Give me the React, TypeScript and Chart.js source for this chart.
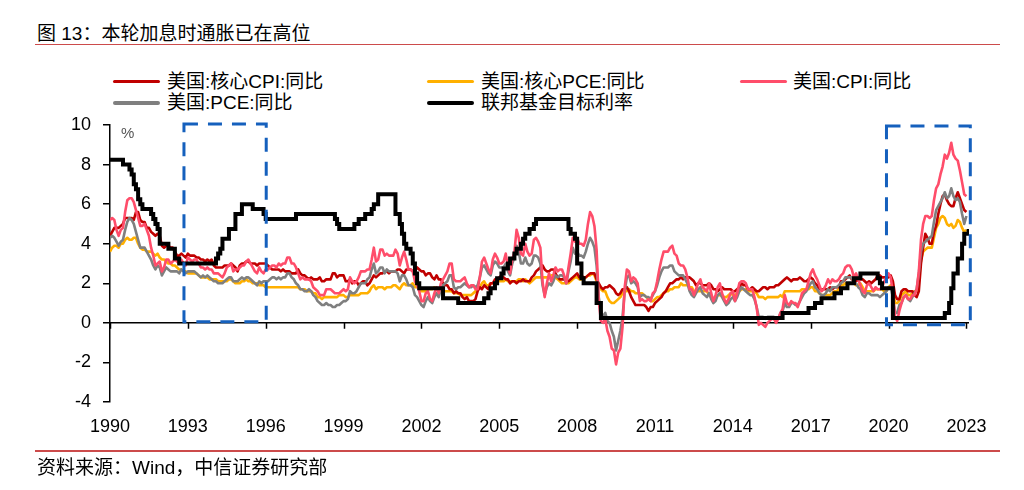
import React, { useEffect, useRef } from 'react';
import { Chart, registerables } from 'chart.js';

Chart.register(...registerables);

// ---------- DATA (monthly, starting 1990-01) ----------
const START_YEAR = 1990;

const coreCpi: number[] = [
  4.4, 4.6, 4.8, 4.8, 4.8, 4.9, 5.0, 5.3, 5.3, 5.3, 5.3, 5.2,
  5.6, 5.6, 5.2, 5.1, 5.1, 4.8, 4.8, 4.6, 4.5, 4.4, 4.5, 4.4,
  3.9, 3.8, 3.9, 3.9, 3.8, 3.8, 3.6, 3.4, 3.4, 3.5, 3.4, 3.3,
  3.5, 3.4, 3.4, 3.4, 3.3, 3.3, 3.2, 3.2, 3.1, 3.2, 3.1, 3.2,
  2.9, 2.8, 2.8, 2.8, 2.8, 2.9, 2.9, 2.9, 3.0, 2.9, 2.8, 2.6,
  2.9, 3.0, 3.0, 3.1, 3.1, 3.0, 3.0, 3.0, 2.9, 3.0, 3.0, 3.0,
  3.0, 2.9, 2.8, 2.7, 2.7, 2.7, 2.7, 2.6, 2.7, 2.6, 2.6, 2.6,
  2.5, 2.5, 2.5, 2.7, 2.5, 2.4, 2.4, 2.3, 2.2, 2.3, 2.2, 2.2,
  2.2, 2.3, 2.1, 2.1, 2.2, 2.2, 2.2, 2.5, 2.5, 2.3, 2.4, 2.4,
  2.4, 2.1, 2.1, 2.2, 2.0, 2.1, 2.1, 1.9, 2.0, 2.1, 2.1, 1.9,
  2.0, 2.2, 2.4, 2.3, 2.4, 2.5, 2.5, 2.6, 2.6, 2.5, 2.6, 2.6,
  2.6, 2.7, 2.7, 2.6, 2.5, 2.7, 2.7, 2.7, 2.6, 2.6, 2.8, 2.7,
  2.6, 2.6, 2.4, 2.5, 2.5, 2.3, 2.2, 2.4, 2.2, 2.2, 2.0, 1.9,
  1.9, 1.7, 1.7, 1.5, 1.6, 1.5, 1.5, 1.3, 1.2, 1.3, 1.1, 1.1,
  1.1, 1.2, 1.6, 1.8, 1.7, 1.9, 1.8, 1.7, 2.0, 2.0, 2.2, 2.2,
  2.3, 2.4, 2.3, 2.2, 2.2, 2.0, 2.1, 2.1, 2.0, 2.1, 2.1, 2.2,
  2.1, 2.1, 2.1, 2.3, 2.4, 2.6, 2.7, 2.8, 2.9, 2.7, 2.6, 2.6,
  2.7, 2.7, 2.5, 2.3, 2.2, 2.2, 2.2, 2.1, 2.1, 2.2, 2.3, 2.4,
  2.5, 2.3, 2.4, 2.3, 2.3, 2.4, 2.5, 2.5, 2.5, 2.2, 2.0, 1.8,
  1.7, 1.8, 1.8, 1.9, 1.8, 1.7, 1.5, 1.4, 1.5, 1.7, 1.7, 1.8,
  1.6, 1.3, 1.1, 0.9, 0.9, 0.9, 0.9, 0.9, 0.8, 0.6, 0.8, 0.8,
  1.0, 1.1, 1.2, 1.3, 1.5, 1.6, 1.8, 2.0, 2.0, 2.1, 2.2, 2.2,
  2.3, 2.2, 2.3, 2.3, 2.3, 2.2, 2.1, 1.9, 2.0, 2.0, 1.9, 1.9,
  1.9, 2.0, 1.9, 1.7, 1.7, 1.6, 1.7, 1.8, 1.7, 1.7, 1.7, 1.7,
  1.6, 1.6, 1.7, 1.8, 2.0, 1.9, 1.9, 1.7, 1.7, 1.8, 1.7, 1.6,
  1.6, 1.7, 1.8, 1.8, 1.7, 1.8, 1.8, 1.8, 1.9, 1.9, 2.0, 2.1,
  2.2, 2.3, 2.2, 2.1, 2.2, 2.2, 2.2, 2.3, 2.2, 2.1, 2.1, 2.2,
  2.3, 2.2, 2.0, 1.9, 1.7, 1.7, 1.7, 1.7, 1.7, 1.8, 1.7, 1.8,
  1.8, 1.8, 2.1, 2.1, 2.2, 2.3, 2.4, 2.2, 2.2, 2.1, 2.2, 2.2,
  2.2, 2.1, 2.0, 2.1, 2.0, 2.1, 2.2, 2.4, 2.4, 2.3, 2.3, 2.3,
  2.3, 2.4, 2.1, 1.4, 1.2, 1.2, 1.6, 1.7, 1.7, 1.6, 1.6, 1.6,
  1.4, 1.3, 1.6, 3.0, 3.8, 4.5, 4.3, 4.0, 4.0, 4.6, 4.9, 5.5,
  6.0, 6.4, 6.5, 6.2, 6.0, 5.9, 5.9, 6.3, 6.6, 6.3, 6.0, 5.7,
  5.6,
];

const corePce: number[] = [
  3.6, 3.8, 3.9, 3.9, 3.8, 4.0, 4.0, 4.2, 4.3, 4.2, 4.2, 4.3,
  4.3, 4.0, 3.8, 3.7, 3.7, 3.6, 3.6, 3.6, 3.5, 3.4, 3.5, 3.3,
  3.2, 3.2, 3.1, 3.0, 3.0, 2.9, 2.9, 2.8, 2.7, 2.7, 2.6, 2.6,
  2.5, 2.5, 2.5, 2.5, 2.5, 2.4, 2.3, 2.3, 2.3, 2.3, 2.2, 2.2,
  2.2, 2.2, 2.1, 2.1, 2.1, 2.1, 2.1, 2.2, 2.2, 2.1, 2.0, 2.0,
  2.0, 2.1, 2.1, 2.2, 2.1, 2.1, 2.0, 2.0, 2.0, 1.9, 1.9, 1.9,
  1.8, 1.8, 1.8, 1.8, 1.8, 1.8, 1.8, 1.8, 1.8, 1.8, 1.8, 1.8,
  1.8, 1.8, 1.8, 1.8, 1.7, 1.7, 1.7, 1.6, 1.6, 1.6, 1.5, 1.5,
  1.3, 1.3, 1.2, 1.3, 1.3, 1.3, 1.3, 1.3, 1.3, 1.3, 1.4, 1.4,
  1.4, 1.3, 1.3, 1.4, 1.4, 1.4, 1.4, 1.4, 1.5, 1.5, 1.5, 1.5,
  1.6, 1.8, 1.9, 1.7, 1.8, 1.8, 1.8, 1.7, 1.8, 1.8, 1.8, 1.9,
  1.9, 1.8, 1.7, 1.9, 2.0, 1.9, 1.9, 1.9, 2.0, 1.8, 1.8, 1.9,
  1.6, 1.6, 1.6, 1.7, 1.7, 1.7, 1.8, 1.7, 1.6, 1.6, 1.6, 1.6,
  1.6, 1.6, 1.6, 1.5, 1.5, 1.5, 1.4, 1.4, 1.4, 1.4, 1.4, 1.4,
  1.5, 1.6, 1.8, 1.8, 2.0, 2.1, 1.9, 1.9, 2.0, 2.0, 2.0, 2.1,
  2.1, 2.1, 2.1, 2.2, 2.1, 2.1, 2.1, 2.1, 2.1, 2.2, 2.2, 2.1,
  2.2, 2.1, 2.0, 2.1, 2.2, 2.3, 2.3, 2.3, 2.3, 2.3, 2.3, 2.3,
  2.4, 2.4, 2.3, 2.2, 2.1, 2.0, 2.0, 2.0, 2.0, 2.1, 2.2, 2.3,
  2.3, 2.2, 2.2, 2.2, 2.3, 2.4, 2.4, 2.5, 2.4, 2.1, 1.9, 1.7,
  1.6, 1.6, 1.3, 1.1, 1.0, 1.0, 1.1, 1.2, 1.3, 1.5, 1.6, 1.6,
  1.7, 1.6, 1.6, 1.5, 1.5, 1.5, 1.5, 1.4, 1.3, 1.2, 1.1, 1.1,
  1.2, 1.3, 1.3, 1.4, 1.5, 1.6, 1.6, 1.7, 1.7, 1.8, 1.8, 1.8,
  2.0, 1.9, 1.9, 1.9, 1.8, 1.8, 1.6, 1.6, 1.6, 1.6, 1.6, 1.6,
  1.6, 1.4, 1.3, 1.2, 1.3, 1.4, 1.4, 1.4, 1.3, 1.3, 1.4, 1.5,
  1.4, 1.4, 1.5, 1.6, 1.7, 1.7, 1.7, 1.6, 1.6, 1.6, 1.6, 1.5,
  1.3, 1.3, 1.3, 1.2, 1.3, 1.3, 1.3, 1.3, 1.3, 1.3, 1.4, 1.3,
  1.6, 1.6, 1.6, 1.6, 1.6, 1.6, 1.6, 1.6, 1.7, 1.7, 1.7, 1.7,
  1.8, 1.8, 1.6, 1.6, 1.5, 1.4, 1.4, 1.4, 1.4, 1.4, 1.5, 1.6,
  1.6, 1.7, 1.9, 1.9, 2.0, 1.9, 2.0, 2.0, 2.0, 1.9, 1.9, 2.0,
  1.8, 1.6, 1.6, 1.6, 1.6, 1.6, 1.7, 1.7, 1.7, 1.7, 1.6, 1.6,
  1.8, 1.9, 1.7, 1.0, 1.0, 1.1, 1.4, 1.5, 1.6, 1.4, 1.4, 1.5,
  1.6, 1.6, 2.1, 3.2, 3.6, 3.7, 3.8, 3.8, 3.8, 4.3, 4.8, 5.0,
  5.3, 5.4, 5.3, 5.0, 4.9, 5.0, 4.8, 4.9, 5.2, 5.1, 4.8, 4.6,
  4.7,
];

const cpi: number[] = [
  5.2, 5.3, 5.2, 4.7, 4.4, 4.7, 4.8, 5.6, 6.2, 6.3, 6.3, 6.1,
  5.7, 5.3, 4.9, 4.9, 5.0, 4.7, 4.4, 3.8, 3.4, 2.9, 3.0, 3.1,
  2.6, 2.8, 3.2, 3.2, 3.0, 3.1, 3.2, 3.1, 3.0, 3.2, 3.0, 2.9,
  3.3, 3.2, 3.1, 3.2, 3.2, 3.0, 2.8, 2.8, 2.7, 2.8, 2.7, 2.7,
  2.5, 2.5, 2.5, 2.4, 2.3, 2.5, 2.8, 2.9, 3.0, 2.6, 2.7, 2.7,
  2.8, 2.9, 2.9, 3.1, 3.2, 3.0, 2.8, 2.6, 2.5, 2.8, 2.6, 2.5,
  2.7, 2.7, 2.8, 2.9, 2.9, 2.8, 3.0, 2.9, 3.0, 3.0, 3.3, 3.3,
  3.0, 3.0, 2.8, 2.5, 2.2, 2.3, 2.2, 2.2, 2.2, 2.1, 1.8, 1.7,
  1.6, 1.4, 1.4, 1.4, 1.7, 1.7, 1.7, 1.6, 1.5, 1.5, 1.5, 1.6,
  1.7, 1.6, 1.7, 2.3, 2.1, 2.0, 2.1, 2.3, 2.6, 2.6, 2.6, 2.7,
  2.7, 3.2, 3.8, 3.1, 3.2, 3.7, 3.7, 3.4, 3.5, 3.4, 3.4, 3.4,
  3.7, 3.5, 2.9, 3.3, 3.6, 3.2, 2.7, 2.7, 2.6, 2.1, 1.9, 1.6,
  1.1, 1.1, 1.5, 1.6, 1.2, 1.1, 1.5, 1.8, 1.5, 2.0, 2.2, 2.4,
  2.6, 3.0, 3.0, 2.2, 2.1, 2.1, 2.1, 2.2, 2.3, 2.0, 1.8, 1.9,
  1.9, 1.7, 1.7, 2.3, 3.1, 3.3, 3.0, 2.7, 2.5, 3.2, 3.5, 3.3,
  3.0, 3.0, 3.1, 3.5, 2.8, 2.5, 3.2, 3.6, 4.7, 4.3, 3.5, 3.4,
  4.0, 3.6, 3.4, 3.5, 4.2, 4.3, 4.1, 3.8, 2.1, 1.3, 2.0, 2.5,
  2.1, 2.4, 2.8, 2.6, 2.7, 2.7, 2.4, 2.0, 2.8, 3.5, 4.3, 4.1,
  4.3, 4.0, 4.0, 3.9, 4.2, 5.0, 5.6, 5.4, 4.9, 3.7, 1.1, 0.1,
  0.0, 0.2, -0.4, -0.7, -1.3, -1.4, -2.1, -1.5, -1.3, -0.2, 1.8, 2.7,
  2.6, 2.1, 2.3, 2.2, 2.0, 1.1, 1.2, 1.1, 1.1, 1.2, 1.1, 1.5,
  1.6, 2.1, 2.7, 3.2, 3.6, 3.6, 3.6, 3.8, 3.9, 3.5, 3.4, 3.0,
  2.9, 2.9, 2.7, 2.3, 1.7, 1.7, 1.4, 1.7, 2.0, 2.2, 1.8, 1.7,
  1.6, 2.0, 1.5, 1.1, 1.4, 1.8, 2.0, 1.5, 1.2, 1.0, 1.2, 1.5,
  1.6, 1.1, 1.5, 2.0, 2.1, 2.1, 2.0, 1.7, 1.7, 1.7, 1.3, 0.8,
  -0.1, 0.0, -0.1, -0.2, 0.0, 0.1, 0.2, 0.2, 0.0, 0.2, 0.5, 0.7,
  1.4, 1.0, 0.9, 1.1, 1.0, 1.0, 0.8, 1.1, 1.5, 1.6, 1.7, 2.1,
  2.5, 2.7, 2.4, 2.2, 1.9, 1.6, 1.7, 1.9, 2.2, 2.0, 2.2, 2.1,
  2.1, 2.2, 2.4, 2.5, 2.8, 2.9, 2.9, 2.7, 2.3, 2.5, 2.2, 1.9,
  1.6, 1.5, 1.9, 2.0, 1.8, 1.6, 1.8, 1.7, 1.7, 1.8, 2.1, 2.3,
  2.5, 2.3, 1.5, 0.3, 0.1, 0.6, 1.0, 1.3, 1.4, 1.2, 1.2, 1.4,
  1.4, 1.7, 2.6, 4.2, 5.0, 5.4, 5.4, 5.3, 5.4, 6.2, 6.8, 7.0,
  7.5, 7.9, 8.5, 8.3, 8.6, 9.1, 8.5, 8.3, 8.2, 7.7, 7.1, 6.5,
  6.4,
];

const pce: number[] = [
  4.3, 4.4, 4.3, 4.1, 3.9, 4.1, 4.2, 4.7, 5.1, 5.3, 5.2, 5.0,
  4.6, 4.2, 3.8, 3.8, 3.8, 3.6, 3.4, 3.2, 2.9, 2.7, 2.9, 2.8,
  2.4, 2.6, 2.8, 2.7, 2.6, 2.6, 2.6, 2.6, 2.5, 2.7, 2.6, 2.5,
  2.6, 2.6, 2.6, 2.6, 2.5, 2.4, 2.3, 2.4, 2.3, 2.4, 2.3, 2.2,
  2.1, 2.1, 2.0, 2.0, 2.0, 2.1, 2.2, 2.3, 2.3, 2.1, 2.1, 2.1,
  2.2, 2.3, 2.2, 2.3, 2.3, 2.2, 2.1, 2.0, 1.9, 2.1, 2.0, 2.1,
  2.1, 2.1, 2.2, 2.3, 2.3, 2.2, 2.3, 2.2, 2.3, 2.3, 2.5, 2.5,
  2.3, 2.2, 2.0, 1.9, 1.7, 1.7, 1.6, 1.6, 1.7, 1.6, 1.4, 1.3,
  1.1, 1.0, 0.9, 0.9, 1.0, 0.9, 0.9, 0.8, 0.8, 0.9, 0.9, 1.0,
  1.1, 1.1, 1.2, 1.6, 1.5, 1.5, 1.6, 1.8, 2.0, 2.0, 2.0, 2.2,
  2.3, 2.7, 3.0, 2.5, 2.6, 2.8, 2.8, 2.5, 2.7, 2.6, 2.6, 2.6,
  2.6, 2.5, 2.1, 2.4, 2.4, 2.2, 1.9, 1.9, 1.8, 1.4, 1.3, 1.1,
  0.9, 0.8, 1.1, 1.3, 1.1, 1.0, 1.3, 1.5, 1.3, 1.7, 1.9, 2.0,
  2.1, 2.4, 2.4, 1.8, 1.7, 1.8, 1.8, 1.9, 2.0, 1.9, 1.8, 1.8,
  1.9, 1.8, 1.9, 2.3, 2.8, 2.9, 2.7, 2.5, 2.4, 2.9, 3.1, 3.0,
  2.8, 2.8, 2.8, 3.0, 2.6, 2.4, 3.0, 3.3, 3.9, 3.6, 3.0, 3.0,
  3.3, 3.0, 2.9, 3.0, 3.4, 3.4, 3.3, 3.0, 1.9, 1.4, 1.8, 2.0,
  1.9, 2.1, 2.4, 2.3, 2.4, 2.4, 2.3, 2.0, 2.6, 3.1, 3.8, 3.5,
  3.6, 3.4, 3.4, 3.3, 3.6, 4.0, 4.3, 4.1, 3.8, 2.9, 1.3, 0.6,
  0.3, 0.5, 0.1, 0.0, -0.4, -0.7, -1.4, -0.9, -0.4, 0.3, 1.6, 2.3,
  2.4, 2.0, 2.1, 2.0, 1.8, 1.3, 1.4, 1.4, 1.3, 1.3, 1.2, 1.4,
  1.6, 1.9, 2.3, 2.6, 2.8, 2.8, 2.8, 2.9, 2.9, 2.6, 2.5, 2.4,
  2.4, 2.4, 2.2, 2.0, 1.6, 1.4, 1.3, 1.5, 1.7, 1.8, 1.5, 1.4,
  1.3, 1.5, 1.2, 1.0, 1.1, 1.4, 1.5, 1.3, 1.1, 0.9, 1.0, 1.2,
  1.3, 1.1, 1.3, 1.6, 1.8, 1.7, 1.6, 1.5, 1.4, 1.4, 1.2, 0.8,
  0.3, 0.3, 0.3, 0.2, 0.3, 0.3, 0.3, 0.3, 0.2, 0.2, 0.5, 0.6,
  1.0, 0.8, 0.8, 1.0, 1.0, 0.9, 0.9, 1.1, 1.3, 1.5, 1.6, 1.8,
  2.0, 2.1, 1.8, 1.7, 1.5, 1.4, 1.4, 1.5, 1.7, 1.6, 1.8, 1.8,
  1.8, 1.9, 2.0, 2.1, 2.3, 2.3, 2.3, 2.3, 2.0, 2.0, 1.8, 1.7,
  1.4, 1.3, 1.5, 1.5, 1.4, 1.4, 1.4, 1.4, 1.3, 1.4, 1.5, 1.6,
  1.8, 1.8, 1.3, 0.5, 0.5, 0.9, 1.0, 1.3, 1.4, 1.2, 1.1, 1.3,
  1.5, 1.7, 2.5, 3.6, 4.0, 4.1, 4.2, 4.3, 4.4, 5.1, 5.7, 5.9,
  6.1, 6.3, 6.6, 6.3, 6.4, 6.8, 6.4, 6.2, 6.3, 6.1, 5.5, 5.0,
  5.4,
];

// Federal funds target rate: month of each change and new level
const fedMonths: string[] = [
  '1990-01', '1990-07', '1990-10', '1990-11', '1990-12', '1991-01', '1991-02', '1991-03',
  '1991-04', '1991-08', '1991-09', '1991-10', '1991-11', '1991-12', '1992-04', '1992-07',
  '1992-09', '1994-02', '1994-03', '1994-04', '1994-05', '1994-08', '1994-11', '1995-02',
  '1995-07', '1995-12', '1996-01', '1997-03', '1998-09', '1998-10', '1998-11', '1999-06',
  '1999-08', '1999-11', '2000-02', '2000-03', '2000-05', '2001-01', '2001-03', '2001-04',
  '2001-05', '2001-06', '2001-08', '2001-09', '2001-10', '2001-11', '2001-12', '2002-11',
  '2003-06', '2004-06', '2004-08', '2004-09', '2004-11', '2004-12', '2005-02', '2005-03',
  '2005-05', '2005-06', '2005-08', '2005-09', '2005-11', '2005-12', '2006-01', '2006-03',
  '2006-05', '2006-06', '2007-09', '2007-10', '2007-12', '2008-01', '2008-03', '2008-04',
  '2008-10', '2008-12', '2015-12', '2016-12', '2017-03', '2017-06', '2017-12', '2018-03',
  '2018-06', '2018-09', '2018-12', '2019-08', '2019-09', '2019-10', '2020-03', '2022-03',
  '2022-05', '2022-06', '2022-07', '2022-09', '2022-11', '2022-12', '2023-02',
];
const fedRates: number[] = [
  8.25, 8.0, 7.75, 7.5, 7.0, 6.75, 6.25, 6.0,
  5.75, 5.5, 5.25, 5.0, 4.75, 4.0, 3.75, 3.25,
  3.0, 3.25, 3.5, 3.75, 4.25, 4.75, 5.5, 6.0,
  5.75, 5.5, 5.25, 5.5, 5.25, 5.0, 4.75, 5.0,
  5.25, 5.5, 5.75, 6.0, 6.5, 5.5, 5.0, 4.5,
  4.0, 3.75, 3.5, 3.0, 2.5, 2.0, 1.75, 1.25,
  1.0, 1.25, 1.5, 1.75, 2.0, 2.25, 2.5, 2.75,
  3.0, 3.25, 3.5, 3.75, 4.0, 4.25, 4.5, 4.75,
  5.0, 5.25, 4.75, 4.5, 4.25, 3.0, 2.25, 2.0,
  1.0, 0.25, 0.5, 0.75, 1.0, 1.25, 1.5, 1.75,
  2.0, 2.25, 2.5, 2.25, 2.0, 1.75, 0.25, 0.5,
  1.0, 1.75, 2.5, 3.25, 4.0, 4.5, 4.75,
];

const xTickYears: number[] = [1990, 1993, 1996, 1999, 2002, 2005, 2008, 2011, 2014, 2017, 2020, 2023];
const yTickValues: number[] = [-4, -2, 0, 2, 4, 6, 8, 10];

// highlighted periods: [start year, end year, low, high]
const highlightBoxes: number[][] = [
  [1992.85, 1996.02, 0.05, 10.05],
  [2019.92, 2023.15, -0.1, 9.95],
];

const seriesNames = ['美国:核心CPI:同比', '美国:核心PCE:同比', '美国:CPI:同比', '美国:PCE:同比', '联邦基金目标利率'];
const seriesColors = ['#C00000', '#FFB000', '#FF4D6A', '#7F7F7F', '#000000'];

const FONT = "'Liberation Sans', Arial, 'Noto Sans CJK SC', sans-serif";

const monthly = (arr: number[]) => arr.map((v, i) => ({ x: START_YEAR + i / 12, y: v }));
const monthToX = (s: string) => {
  const [y, m] = s.split('-').map(Number);
  return y + (m - 1) / 12;
};

const overlayPlugin = {
  id: 'overlay',
  beforeDatasetsDraw(chart: any) {
    const { ctx, scales, chartArea } = chart;
    const x = scales.x;
    const y = scales.y;
    const y0 = y.getPixelForValue(0);
    ctx.save();
    ctx.strokeStyle = '#000';
    ctx.lineWidth = 1.5;
    ctx.beginPath();
    ctx.moveTo(chartArea.left, y0);
    ctx.lineTo(chartArea.right, y0);
    xTickYears.forEach((yr) => {
      const px = Math.round(x.getPixelForValue(yr)) + 0.5;
      ctx.moveTo(px, y0);
      ctx.lineTo(px, y0 + 6);
    });
    ctx.stroke();
    ctx.restore();
  },
  afterDatasetsDraw(chart: any) {
    const { ctx, scales } = chart;
    const x = scales.x;
    const y = scales.y;
    ctx.save();
    ctx.strokeStyle = '#1560BD';
    ctx.lineWidth = 3;
    ctx.setLineDash([14, 10]);
    highlightBoxes.forEach(([x1, x2, lo, hi]) => {
      const l = x.getPixelForValue(x1);
      const r = x.getPixelForValue(x2);
      const t = y.getPixelForValue(hi);
      const b = y.getPixelForValue(lo);
      ctx.strokeRect(l, t, r - l, b - t);
    });
    ctx.restore();
  },
};

export default function App() {
  const ref = useRef<HTMLCanvasElement | null>(null);

  useEffect(() => {
    if (!ref.current) return;
    const series = [coreCpi, corePce, cpi, pce];
    const orders = [3, 4, 1, 2];
    const datasets: any[] = series.map((arr, i) => ({
      label: seriesNames[i],
      data: monthly(arr),
      borderColor: seriesColors[i],
      borderWidth: 2.6,
      pointRadius: 0,
      fill: false,
      order: orders[i],
      borderJoinStyle: 'round',
    }));
    datasets.push({
      label: seriesNames[4],
      data: fedMonths.map((m, i) => ({ x: monthToX(m), y: fedRates[i] })),
      borderColor: seriesColors[4],
      borderWidth: 4,
      pointRadius: 0,
      fill: false,
      stepped: 'before',
      order: 0,
    });

    const chart = new Chart(ref.current, {
      type: 'line',
      data: { datasets },
      plugins: [overlayPlugin],
      options: {
        animation: false,
        responsive: false,
        maintainAspectRatio: false,
        devicePixelRatio: 1,
        parsing: false as any,
        layout: { padding: { left: 0, top: 125, right: 55, bottom: 58 } },
        plugins: { legend: { display: false }, tooltip: { enabled: false } },
        scales: {
          x: {
            type: 'linear',
            min: 1990,
            max: 2023.1,
            grid: { display: false, drawTicks: false },
            border: { display: false },
            ticks: {
              font: { family: FONT, size: 18 },
              color: '#000',
              padding: 14,
              autoSkip: false,
              maxRotation: 0,
              callback: (v: any) => String(v),
            },
            afterBuildTicks: (s: any) => {
              s.ticks = xTickYears.map((v) => ({ value: v }));
            },
            afterFit: (s: any) => {
              s.height = 30;
            },
          },
          y: {
            min: -4,
            max: 10,
            grid: { drawOnChartArea: false, drawTicks: true, tickLength: 7, color: '#000', lineWidth: 1.5 },
            border: { display: true, color: '#000', width: 1.5 },
            ticks: {
              font: { family: FONT, size: 18 },
              color: '#000',
              padding: 12,
              callback: (v: any) => String(v),
            },
            afterBuildTicks: (s: any) => {
              s.ticks = yTickValues.map((v) => ({ value: v }));
            },
            afterFit: (s: any) => {
              s.width = 110;
            },
          },
        },
      },
    });
    return () => chart.destroy();
  }, []);

  const textFont = "'Liberation Sans', Arial, 'Noto Sans CJK SC', sans-serif";
  const legendRows = [
    [
      { i: 0, lx: 113, tx: 167 },
      { i: 1, lx: 427, tx: 481 },
      { i: 2, lx: 740, tx: 793 },
    ],
    [
      { i: 3, lx: 113, tx: 167 },
      { i: 4, lx: 427, tx: 481 },
    ],
  ];
  const rowY = [81.5, 103];

  return (
    <div
      style={{
        position: 'absolute',
        left: 0,
        top: 0,
        width: 1024,
        height: 490,
        background: '#fff',
        fontFamily: textFont,
        color: '#000',
        overflow: 'hidden',
      }}
    >
      <div style={{ position: 'absolute', left: 37, top: 23, fontSize: 19, lineHeight: '22px', whiteSpace: 'nowrap' }}>
        图 13：本轮加息时通胀已在高位
      </div>
      <div style={{ position: 'absolute', left: 35, top: 43.5, width: 965, height: 1.5, background: '#CC4B4B' }} />
      {legendRows.map((row, r) =>
        row.map((it) => (
          <React.Fragment key={`${r}-${it.i}`}>
            <div
              style={{
                position: 'absolute',
                left: it.lx,
                top: rowY[r] - (it.i === 4 ? 2 : 1.75),
                width: 47,
                height: it.i === 4 ? 4 : 3.5,
                borderRadius: 2,
                background: seriesColors[it.i],
              }}
            />
            <div
              style={{
                position: 'absolute',
                left: it.tx,
                top: rowY[r] - 11,
                fontSize: 19,
                lineHeight: '22px',
                whiteSpace: 'nowrap',
              }}
            >
              {seriesNames[it.i]}
            </div>
          </React.Fragment>
        ))
      )}
      <canvas ref={ref} width={1024} height={490} style={{ position: 'absolute', left: 0, top: 0, width: 1024, height: 490 }} />
      <div style={{ position: 'absolute', left: 121, top: 124, fontSize: 15, lineHeight: '18px', color: '#555' }}>%</div>
      <div style={{ position: 'absolute', left: 35, top: 450, width: 965, height: 1.5, background: '#CC4B4B' }} />
      <div style={{ position: 'absolute', left: 37, top: 457, fontSize: 19, lineHeight: '22px', whiteSpace: 'nowrap' }}>
        资料来源：Wind，中信证券研究部
      </div>
    </div>
  );
}
